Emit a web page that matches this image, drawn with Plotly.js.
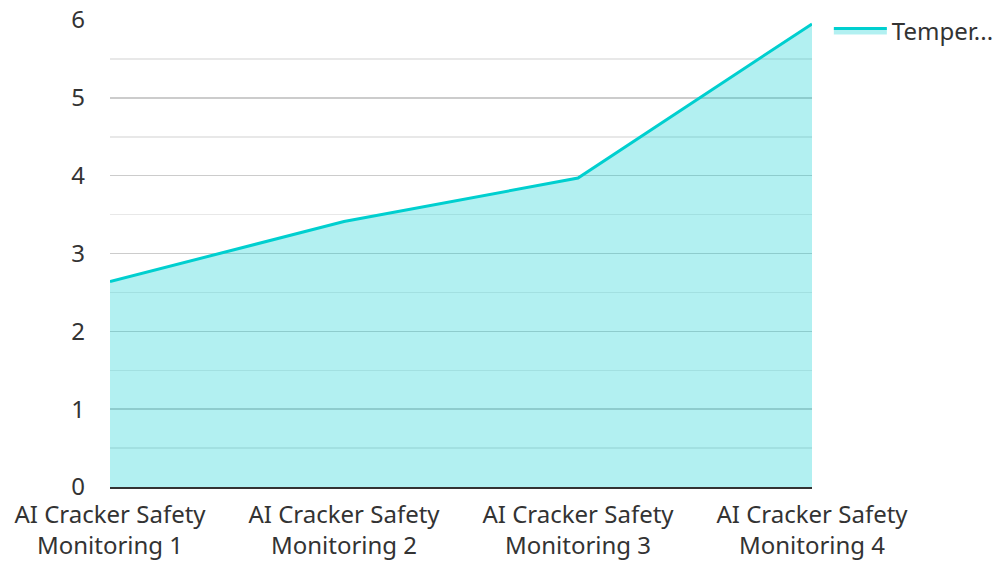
<!DOCTYPE html>
<html>
<head>
<meta charset="utf-8">
<script src="https://cdn.plot.ly/plotly-3.0.1.min.js"></script>
<style>html,body{margin:0;padding:0;background:#fff;}#chart{width:1002px;height:561px;}</style>
</head>
<body>
<div id="chart"></div>
<script>
const categories = ["AI Cracker Safety<br>Monitoring 1", "AI Cracker Safety<br>Monitoring 2", "AI Cracker Safety<br>Monitoring 3", "AI Cracker Safety<br>Monitoring 4"];
const temperature = [2.64, 3.41, 3.97, 5.95];
const seriesName = "Temper...";

const trace = {
  type: "scatter",
  mode: "lines",
  x: categories,
  y: temperature,
  name: seriesName,
  fill: "tozeroy",
  fillcolor: "rgba(0,206,209,0.3)",
  line: {color: "#00cfcf", width: 3}
};

const layout = {
  width: 1002,
  height: 561,
  margin: {l: 110, r: 190, t: 20, b: 74, autoexpand: false},
  paper_bgcolor: "#ffffff",
  plot_bgcolor: "#ffffff",
  font: {family: "Noto Sans, sans-serif", size: 24, color: "#333333"},
  showlegend: true,
  legend: {x: 1.024, y: 1.025, xanchor: "left", yanchor: "top", itemwidth: 53, font: {size: 24, color: "#333333"}},
  xaxis: {
    type: "category",
    range: [0, 3],
    showgrid: false,
    showline: true,
    linecolor: "#333333",
    linewidth: 2,
    ticks: "",
    ticklabelstandoff: 5,
    tickfont: {size: 24, color: "#333333"},
    zeroline: false
  },
  yaxis: {
    range: [0, 6],
    dtick: 1,
    showgrid: true,
    gridcolor: "#cccccc",
    gridwidth: 1.5,
    zeroline: false,
    showline: false,
    ticks: "",
    ticklabelstandoff: 24,
    tickfont: {size: 24, color: "#333333"},
    minor: {dtick: 0.5, showgrid: true, gridcolor: "#e8e8e8", gridwidth: 1.5}
  }
};

Plotly.newPlot("chart", [trace], layout, {displayModeBar: false, staticPlot: true});
</script>
</body>
</html>
